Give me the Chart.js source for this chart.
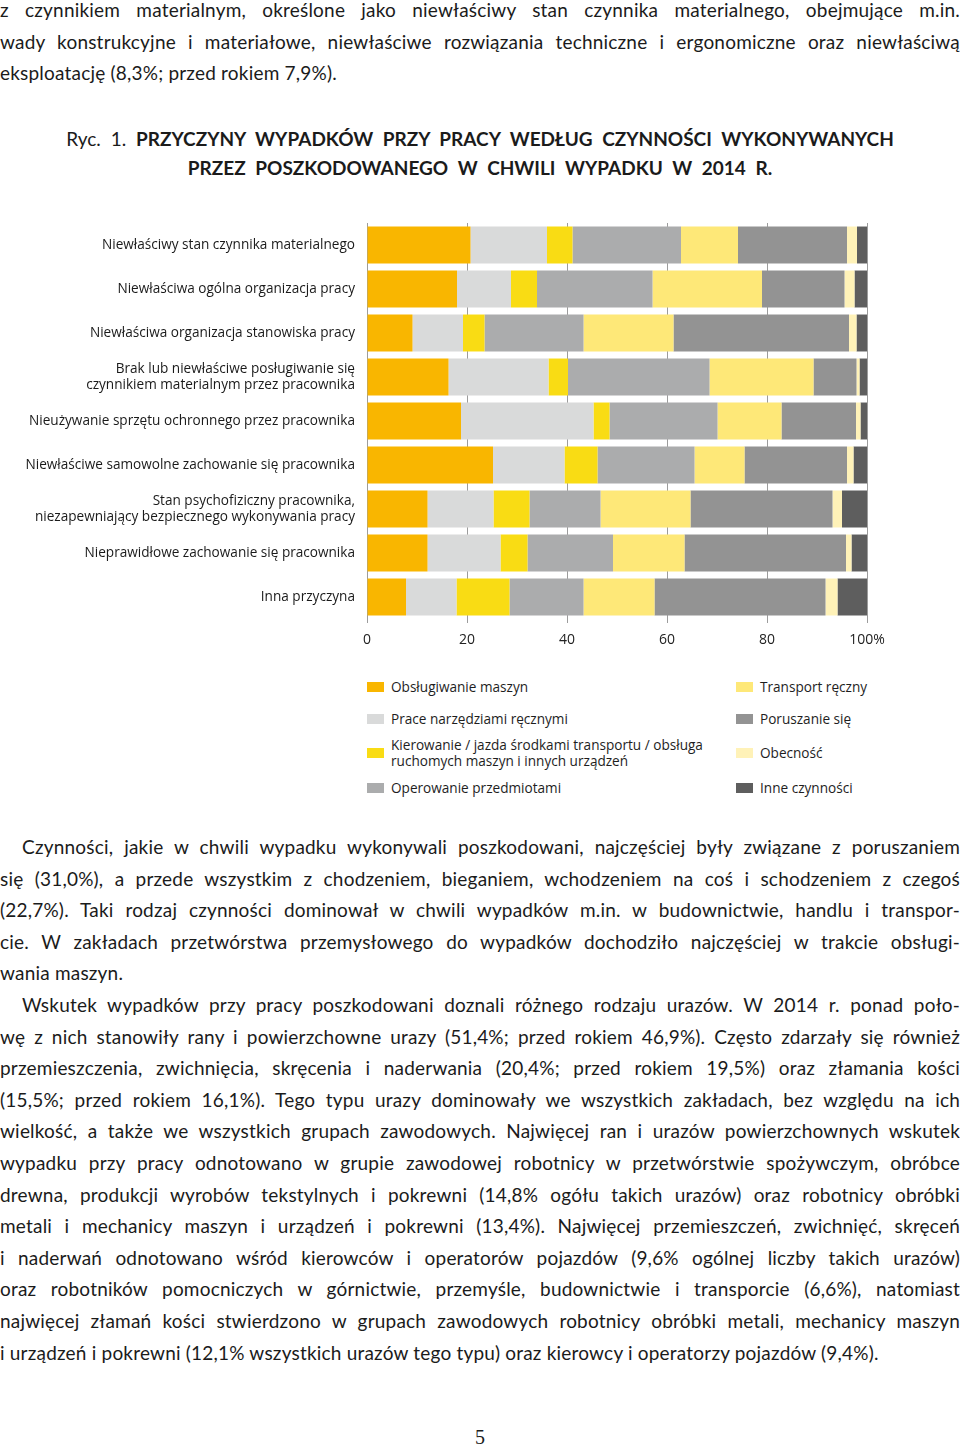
<!DOCTYPE html>
<html lang="pl">
<head>
<meta charset="utf-8">
<script src="https://cdn.jsdelivr.net/npm/chart.js@4.4.1/dist/chart.umd.min.js"></script>
<style>
  html, body { margin: 0; padding: 0; background: #fff; }
  body { width: 960px; height: 1448px; position: relative; overflow: hidden; color: #1b1b1b; font-family: Lato, 'Open Sans', sans-serif; }
  .txt { position: absolute; left: 0; width: 960px; font-size: 19px; letter-spacing: 0.2px; line-height: 31.6px; }
  .txt div { text-align: justify; text-align-last: justify; }
  .txt div.last { text-align-last: left; }
  .txt div.ind { padding-left: 22px; }
  .title { position: absolute; left: 0; width: 960px; text-align: center; font-size: 19px; line-height: 29px; word-spacing: 5px; }
  .title b { font-weight: 700; }
  #wrap { position: absolute; left: 0; top: 200px; width: 960px; height: 460px; }
  #legend { position: absolute; left: 367px; top: 671px; display: grid; grid-template-columns: 369px 200px; grid-template-rows: 32px 32px 36px 34px; grid-auto-flow: column; font-family: 'Open Sans', sans-serif; font-size: 13.6px; line-height: 16px; color: #1e1e1e; }
  .li { display: flex; align-items: center; }
  .sw { width: 17px; height: 10px; margin-right: 7px; flex: none; }
  .pg { position: absolute; left: 0; width: 960px; top: 1426px; text-align: center; font-family: 'Liberation Serif', serif; font-size: 20px; }
</style>
</head>
<body>
<div class="txt" style="top:-6px">
  <div>z czynnikiem materialnym, określone jako niewłaściwy stan czynnika materialnego, obejmujące m.in.</div>
  <div>wady konstrukcyjne i materiałowe, niewłaściwe rozwiązania techniczne i ergonomiczne oraz niewłaściwą</div>
  <div class="last">eksploatację (8,3%; przed rokiem 7,9%).</div>
</div>

<div class="title" style="top:124px">Ryc. 1. <b>PRZYCZYNY WYPADKÓW PRZY PRACY WEDŁUG CZYNNOŚCI WYKONYWANYCH</b></div>
<div class="title" style="top:153px"><b>PRZEZ POSZKODOWANEGO W CHWILI WYPADKU W 2014 R.</b></div>

<div id="wrap"><canvas id="chart"></canvas></div>
<div id="legend"></div>

<div class="txt" style="top:831px">
  <div class="ind">Czynności, jakie w chwili wypadku wykonywali poszkodowani, najczęściej były związane z poruszaniem</div>
  <div>się (31,0%), a przede wszystkim z chodzeniem, bieganiem, wchodzeniem na coś i schodzeniem z czegoś</div>
  <div>(22,7%). Taki rodzaj czynności dominował w chwili wypadków m.in. w budownictwie, handlu i transpor-</div>
  <div>cie. W zakładach przetwórstwa przemysłowego do wypadków dochodziło najczęściej w trakcie obsługi-</div>
  <div class="last">wania maszyn.</div>
  <div class="ind">Wskutek wypadków przy pracy poszkodowani doznali różnego rodzaju urazów. W 2014 r. ponad poło-</div>
  <div>wę z nich stanowiły rany i powierzchowne urazy (51,4%; przed rokiem 46,9%). Często zdarzały się również</div>
  <div>przemieszczenia, zwichnięcia, skręcenia i naderwania (20,4%; przed rokiem 19,5%) oraz złamania kości</div>
  <div>(15,5%; przed rokiem 16,1%). Tego typu urazy dominowały we wszystkich zakładach, bez względu na ich</div>
  <div>wielkość, a także we wszystkich grupach zawodowych. Najwięcej ran i urazów powierzchownych wskutek</div>
  <div>wypadku przy pracy odnotowano w grupie zawodowej robotnicy w przetwórstwie spożywczym, obróbce</div>
  <div>drewna, produkcji wyrobów tekstylnych i pokrewni (14,8% ogółu takich urazów) oraz robotnicy obróbki</div>
  <div>metali i mechanicy maszyn i urządzeń i pokrewni (13,4%). Najwięcej przemieszczeń, zwichnięć, skręceń</div>
  <div>i naderwań odnotowano wśród kierowców i operatorów pojazdów (9,6% ogólnej liczby takich urazów)</div>
  <div>oraz robotników pomocniczych w górnictwie, przemyśle, budownictwie i transporcie (6,6%), natomiast</div>
  <div>najwięcej złamań kości stwierdzono w grupach zawodowych robotnicy obróbki metali, mechanicy maszyn</div>
  <div class="last">i urządzeń i pokrewni (12,1% wszystkich urazów tego typu) oraz kierowcy i operatorzy pojazdów (9,4%).</div>
</div>

<div class="pg">5</div>

<script>
// przyczyny (os Y)
const categories = [
  'Niewłaściwy stan czynnika materialnego',
  'Niewłaściwa ogólna organizacja pracy',
  'Niewłaściwa organizacja stanowiska pracy',
  ['Brak lub niewłaściwe posługiwanie się', 'czynnikiem materialnym przez pracownika'],
  'Nieużywanie sprzętu ochronnego przez pracownika',
  'Niewłaściwe samowolne zachowanie się pracownika',
  ['Stan psychofiziczny pracownika,', 'niezapewniający bezpiecznego wykonywania pracy'],
  'Nieprawidłowe zachowanie się pracownika',
  'Inna przyczyna'
];

// czynnosci (serie), % w kazdej przyczynie
const seriesNames = [
  'Obsługiwanie maszyn',
  'Prace narzędziami ręcznymi',
  ['Kierowanie / jazda środkami transportu / obsługa', 'ruchomych maszyn i innych urządzeń'],
  'Operowanie przedmiotami',
  'Transport ręczny',
  'Poruszanie się',
  'Obecność',
  'Inne czynności'
];
const seriesColors = ['#f9b600', '#d9dada', '#f9dc14', '#abacad', '#fee878', '#939393', '#fff2b8', '#5e5e5e'];

const obslugiwanie = [20.7, 18.0, 9.1, 16.3, 18.8, 25.2, 12.1, 12.1, 7.8];
const prace = [15.3, 10.8, 10.1, 20.0, 26.5, 14.3, 13.2, 14.6, 10.1];
const kierowanie = [5.1, 5.2, 4.3, 3.9, 3.2, 6.6, 7.2, 5.4, 10.6];
const operowanie = [21.7, 23.1, 19.8, 28.3, 21.6, 19.4, 14.2, 17.1, 14.8];
const transport = [11.4, 21.9, 18.0, 20.8, 12.8, 10.0, 18.0, 14.3, 14.2];
const poruszanie = [21.8, 16.5, 35.1, 8.6, 14.9, 20.5, 28.4, 32.3, 34.2];
const obecnosc = [2.0, 2.0, 1.5, 0.6, 0.9, 1.3, 1.9, 1.1, 2.4];
const inne = [2.0, 2.5, 2.1, 1.5, 1.3, 2.7, 5.0, 3.1, 5.9];

const seriesValues = [obslugiwanie, prace, kierowanie, operowanie, transport, poruszanie, obecnosc, inne];

const xMax = 100;
const xStep = 20;

// legenda w HTML (dwie kolumny jak w oryginale)
const legend = document.getElementById('legend');
seriesNames.forEach((name, i) => {
  const item = document.createElement('div');
  item.className = 'li';
  const sw = document.createElement('span');
  sw.className = 'sw';
  sw.style.background = seriesColors[i];
  const lbl = document.createElement('span');
  lbl.innerHTML = Array.isArray(name) ? name.join('<br>') : name;
  item.appendChild(sw);
  item.appendChild(lbl);
  legend.appendChild(item);
});

const gridColor = '#9c9c9c';

new Chart(document.getElementById('chart'), {
  type: 'bar',
  data: {
    labels: categories,
    datasets: seriesValues.map((vals, i) => ({
      label: Array.isArray(seriesNames[i]) ? seriesNames[i].join(' ') : seriesNames[i],
      data: vals,
      backgroundColor: seriesColors[i],
      borderWidth: 0,
      categoryPercentage: 1,
      barPercentage: 0.84
    }))
  },
  options: {
    indexAxis: 'y',
    responsive: true,
    maintainAspectRatio: false,
    animation: false,
    layout: { padding: { left: 0, right: 93, top: 23, bottom: 0 } },
    plugins: {
      legend: { display: false },
      tooltip: { enabled: false }
    },
    scales: {
      x: {
        stacked: true,
        min: 0,
        max: xMax,
        ticks: {
          stepSize: xStep,
          padding: 9,
          color: '#222',
          font: { family: "'Open Sans', sans-serif", size: 14 },
          callback: v => v === xMax ? v + '%' : v
        },
        grid: { color: gridColor, lineWidth: 1, tickLength: 4, tickColor: gridColor },
        border: { display: false },
        afterFit: s => { s.height = 41; }
      },
      y: {
        stacked: true,
        ticks: {
          padding: 12,
          color: '#1a1a1a',
          font: { family: "'Open Sans', sans-serif", size: 13.6, lineHeight: 16 / 13.6 }
        },
        grid: { display: false, drawTicks: false },
        border: { display: true, color: gridColor, width: 1 },
        afterFit: s => { s.width = 367; }
      }
    }
  }
});
</script>
</body>
</html>
